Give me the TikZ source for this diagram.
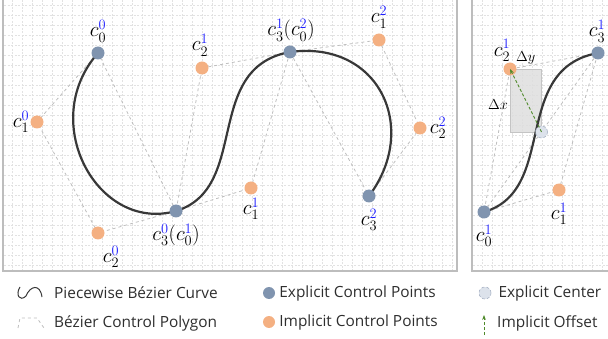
\documentclass[tikz,border=0pt]{standalone}
\usepackage{fontspec}
\setsansfont{Open Sans}
\usetikzlibrary{positioning, arrows.meta}
\definecolor{explblue}{HTML}{8094AF}
\definecolor{implorange}{HTML}{F4B082}
\definecolor{ctrfill}{HTML}{DCE2EB}
\definecolor{ctrdraw}{HTML}{A9B4C6}
\definecolor{curvegray}{HTML}{383838}
\definecolor{polygray}{HTML}{BEBEBE}
\definecolor{gridgray}{HTML}{E2E2E2}
\definecolor{framegray}{HTML}{BDBDBD}
\definecolor{rectgray}{HTML}{DEDEDE}
\definecolor{rectedge}{HTML}{C4C4C4}
\definecolor{offsetgreen}{HTML}{4F8A2B}
\definecolor{supblue}{HTML}{1F1FFF}
\newcommand{\cpt}[2]{c_{#1}^{\textcolor{supblue}{#2}}}

\begin{document}
\begin{tikzpicture}[
    x=1pt, y=-1pt,
    >={Stealth[length=5pt]},
    every node/.style={inner sep=0pt},
    explicit dot/.style={circle, fill=explblue, minimum size=13pt},
    implicit dot/.style={circle, fill=implorange, minimum size=13pt},
    center dot/.style={circle, fill=ctrfill, draw=ctrdraw, densely dashed,
        line width=0.6pt, minimum size=12pt},
    ptlabel/.style={font=\fontsize{21}{24}\selectfont},
    dlabel/.style={font=\fontsize{15}{18}\selectfont},
    curve/.style={draw=curvegray, line width=2.2pt},
    ctrlpoly/.style={draw=polygray, dashed, line width=0.8pt},
    gridline/.style={draw=gridgray, line width=0.45pt, dash pattern=on 2pt off 1.5pt},
    panel/.style={draw=framegray, line width=2pt},
    offset/.style={->, draw=offsetgreen, densely dashed, line width=0.9pt},
    legend text/.style={font=\sffamily\fontsize{15.4}{17}\selectfont, anchor=west, text=black!82},
]
\useasboundingbox (0,0) rectangle (608,339);

% === Grid ===
\foreach \gx in {12,22,...,452} \draw[gridline] (\gx,0) -- (\gx,270);
\foreach \gy in {5,15,...,265} \draw[gridline] (4,\gy) -- (456,\gy);
\foreach \gx in {482,492,...,602} \draw[gridline] (\gx,0) -- (\gx,270);
\foreach \gy in {5,15,...,265} \draw[gridline] (473,\gy) -- (608,\gy);

% === Panels ===
\draw[panel] (3,-0.5) rectangle (457,271);
\draw[panel] (472,-0.5) rectangle (614,271);

% === Control points (left) ===
\coordinate (c00) at (98,53);
\coordinate (c01) at (37,122);
\coordinate (c02) at (98,233);
\coordinate (c03) at (176,211);
\coordinate (c11) at (251,188);
\coordinate (c12) at (202,68);
\coordinate (c13) at (290,52);
\coordinate (c21) at (379,40);
\coordinate (c22) at (420,128);
\coordinate (c23) at (369,196);

% === Control points (right) ===
\coordinate (r0) at (484,212);
\coordinate (r1) at (559,190);
\coordinate (r2) at (510,69);
\coordinate (r3) at (598,53);
\coordinate (rc) at (541.5,132);

% === Control polygons ===
\draw[ctrlpoly] (c00) -- (c01) -- (c02) -- (c03) -- cycle;
\draw[ctrlpoly] (c03) -- (c11) -- (c13) -- (c12) -- cycle;
\draw[ctrlpoly] (c13) -- (c21) -- (c22) -- (c23) -- cycle;
\draw[ctrlpoly] (r0) -- (r1) -- (r3) -- (r2) -- cycle;
\draw[ctrlpoly] (r0) -- (r3);

% === Offset box ===
\draw[fill=rectgray, fill opacity=0.85, draw=rectedge, line width=0.6pt] (r2) rectangle (rc);
\path (r2) -- node[dlabel, above=4pt] {$\Delta y$} (r2 -| rc);
\path (r2) -- node[dlabel, left=2pt, yshift=-4pt] {$\Delta x$} (r2 |- rc);

% === Curves ===
\draw[curve] (c00) .. controls (c01) and (c02) .. (c03)
    .. controls (c11) and (c12) .. (c13)
    .. controls (c21) and (c22) .. (c23);
\draw[curve] (r0) .. controls (r1) and (r2) .. (r3);

% === Dots ===
\node[explicit dot] (d00) at (c00) {};
\node[implicit dot] (d01) at (c01) {};
\node[implicit dot] (d02) at (c02) {};
\node[explicit dot] (d03) at (c03) {};
\node[implicit dot] (d11) at (c11) {};
\node[implicit dot] (d12) at (c12) {};
\node[explicit dot] (d13) at (c13) {};
\node[implicit dot] (d21) at (c21) {};
\node[implicit dot] (d22) at (c22) {};
\node[explicit dot] (d23) at (c23) {};

\node[explicit dot] (dr0) at (r0) {};
\node[implicit dot] (dr1) at (r1) {};
\node[implicit dot] (dr2) at (r2) {};
\node[explicit dot] (dr3) at (r3) {};
\node[center dot] (drc) at (rc) {};

\draw[offset] (rc) -- (r2);

% === Labels ===
\node[ptlabel, above=4pt of d00] (l00) {$\cpt{0}{0}$};
\node[ptlabel, left=1pt of d01] (l01) {$\cpt{1}{0}$};
\node[ptlabel, below=6pt of d02, xshift=13pt] (l02) {$\cpt{2}{0}$};
\node[ptlabel, below=6pt of d03] (l03) {$\cpt{3}{0}(\cpt{0}{1})$};
\node[ptlabel, below=3pt of d11] (l11) {$\cpt{1}{1}$};
\node[ptlabel, above=5pt of d12, xshift=-2pt] (l12) {$\cpt{2}{1}$};
\node[ptlabel, above=4pt of d13, xshift=1pt] (l13) {$\cpt{3}{1}(\cpt{0}{2})$};
\node[ptlabel, above=5pt of d21] (l21) {$\cpt{1}{2}$};
\node[ptlabel, right=3pt of d22] (l22) {$\cpt{2}{2}$};
\node[ptlabel, below=6pt of d23] (l23) {$\cpt{3}{2}$};

\node[ptlabel, below=6pt of dr0] (lr0) {$\cpt{0}{1}$};
\node[ptlabel, below=6pt of dr1] (lr1) {$\cpt{1}{1}$};
\node[ptlabel, above=0.5pt of dr2, xshift=-8pt] (lr2) {$\cpt{2}{1}$};
\node[ptlabel, above=4pt of dr3, xshift=-1pt] (lr3) {$\cpt{3}{1}$};

% === Legend ===
\draw[draw=curvegray, line width=1pt]
    (20,287) .. controls (15,295) and (20,302) .. (26,296)
    .. controls (30,286) and (40,283) .. (42,297);
\node[legend text] (lgcurve) at (54,293) {Piecewise Bézier Curve};

\draw[ctrlpoly] (18,328) -- (20,318) -- (37,318) -- (44,328);
\node[legend text] (lgpoly) at (54,323) {Bézier Control Polygon};

\node[explicit dot, minimum size=12pt] (lgexpl) at (269,293) {};
\node[legend text, right=4pt of lgexpl] (lgexpltxt) {Explicit Control Points};
\node[implicit dot, minimum size=12pt] (lgimpl) at (269,322) {};
\node[legend text, right=4pt of lgimpl] (lgimpltxt) {Implicit Control Points};

\node[center dot] (lgctr) at (485,293) {};
\node[legend text, right=7pt of lgctr] (lgctrtxt) {Explicit Center};
\coordinate (lgoff0) at (484,335);
\coordinate (lgoff1) at (484,315);
\draw[offset] (lgoff0) -- (lgoff1);
\node[legend text] (lgofftxt) at (497,323) {Implicit Offset};

\end{tikzpicture}
\end{document}
